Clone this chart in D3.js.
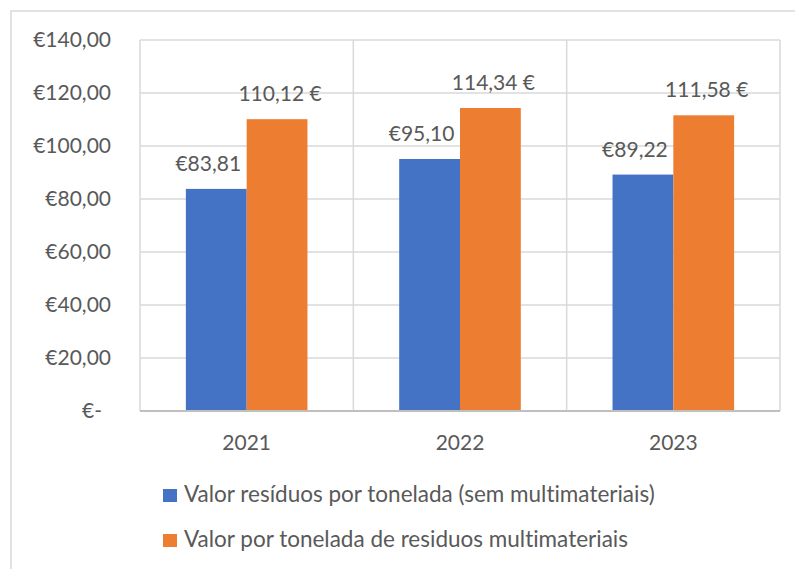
<!DOCTYPE html>
<html>
<head>
<meta charset="utf-8">
<script src="https://cdn.jsdelivr.net/npm/d3@7"></script>
<style>
  html, body { margin: 0; padding: 0; background: #fff; }
  svg { display: block; }
  text { font-family: Lato, "Open Sans", sans-serif; fill: #595959; font-variant-ligatures: none; }
</style>
</head>
<body>
<svg id="chart" width="795" height="569"></svg>
<script>
// Waste value per tonne, by year
const years = ["2021", "2022", "2023"];
const seriesNames = [
  "Valor resíduos por tonelada (sem multimateriais)",
  "Valor por tonelada de residuos multimateriais"
];
const valuesStandard = [83.81, 95.10, 89.22];
const valuesMulti = [110.12, 114.34, 111.58];
const labelsStandard = ["€83,81", "€95,10", "€89,22"];
const labelsMulti = ["110,12 €", "114,34 €", "111,58 €"];
const yTicks = [0, 20, 40, 60, 80, 100, 120, 140];
const yTickLabels = ["€-", "€20,00", "€40,00", "€60,00", "€80,00", "€100,00", "€120,00", "€140,00"];
const colors = ["#4472C4", "#ED7D31"];

const svg = d3.select("#chart");
const W = 795, H = 569;
const plot = { left: 140, right: 780, top: 40, bottom: 411 };
const fs = 21;

// chart frame
svg.append("rect")
  .attr("x", 11).attr("y", 11)
  .attr("width", W + 20).attr("height", H + 20)
  .attr("fill", "none").attr("stroke", "#d9d9d9").attr("stroke-width", 1.5);

const x = d3.scaleBand().domain(years)
  .range([plot.left, plot.right]).paddingInner(0.43).paddingOuter(0.215);
const xOuter = d3.scaleBand().domain(years).range([plot.left, plot.right]);
const xInner = d3.scaleBand().domain([0, 1]).range([0, x.bandwidth()]);
const y = d3.scaleLinear().domain([0, 140]).range([plot.bottom, plot.top]);

// horizontal gridlines
svg.append("g").selectAll("line").data(yTicks.filter(d => d > 0)).join("line")
  .attr("x1", plot.left).attr("x2", plot.right)
  .attr("y1", d => y(d)).attr("y2", d => y(d))
  .attr("stroke", "#d9d9d9").attr("stroke-width", 1.5);

// vertical gridlines at category boundaries
const vlines = years.map(d => xOuter(d)).concat([plot.right]);
svg.append("g").selectAll("line").data(vlines).join("line")
  .attr("x1", d => d).attr("x2", d => d)
  .attr("y1", plot.top).attr("y2", plot.bottom)
  .attr("stroke", "#d9d9d9").attr("stroke-width", 1.5);

// y-axis labels
const yAxis = d3.axisLeft(y).tickValues(yTicks)
  .tickFormat((d, i) => yTickLabels[i]).tickSize(0).tickPadding(0);
const yg = svg.append("g").attr("transform", `translate(111,0)`).call(yAxis);
yg.select(".domain").remove();
yg.selectAll("text")
  .attr("font-size", fs).attr("fill", "#595959")
  .attr("font-family", "Lato, sans-serif")
  .attr("dx", (d) => d === 0 ? -9 : 0);

// bars
const series = [valuesStandard, valuesMulti];
const labels = [labelsStandard, labelsMulti];
const labelShift = [-8, 3];
series.forEach((vals, s) => {
  svg.append("g").selectAll("rect").data(years).join("rect")
    .attr("x", d => x(d) + xInner(s))
    .attr("y", (d, i) => y(vals[i]))
    .attr("width", xInner.bandwidth())
    .attr("height", (d, i) => y(0) - y(vals[i]))
    .attr("fill", colors[s]);
  svg.append("g").selectAll("text").data(years).join("text")
    .attr("x", d => x(d) + xInner(s) + xInner.bandwidth() / 2 + labelShift[s])
    .attr("y", (d, i) => y(vals[i]) - 18)
    .attr("text-anchor", "middle")
    .attr("font-size", fs)
    .text((d, i) => labels[s][i]);
});

// category axis line
svg.append("line")
  .attr("x1", plot.left).attr("x2", plot.right)
  .attr("y1", plot.bottom).attr("y2", plot.bottom)
  .attr("stroke", "#bfbfbf").attr("stroke-width", 2);

// x labels
const xAxis = d3.axisBottom(x).tickSize(0).tickPadding(0);
const xg = svg.append("g").attr("transform", `translate(0,${plot.bottom})`).call(xAxis);
xg.select(".domain").remove();
xg.selectAll("text").attr("font-size", fs).attr("fill", "#595959")
  .attr("font-family", "Lato, sans-serif")
  .attr("dy", null).attr("y", 39);

// legend
const legend = svg.append("g");
seriesNames.forEach((name, i) => {
  const ly = 502 + i * 45;
  legend.append("rect").attr("x", 163).attr("y", ly - 13)
    .attr("width", 14).attr("height", 13).attr("fill", colors[i]);
  legend.append("text").attr("x", 184).attr("y", ly)
    .attr("font-size", 22.5).text(name);
});
</script>
</body>
</html>
